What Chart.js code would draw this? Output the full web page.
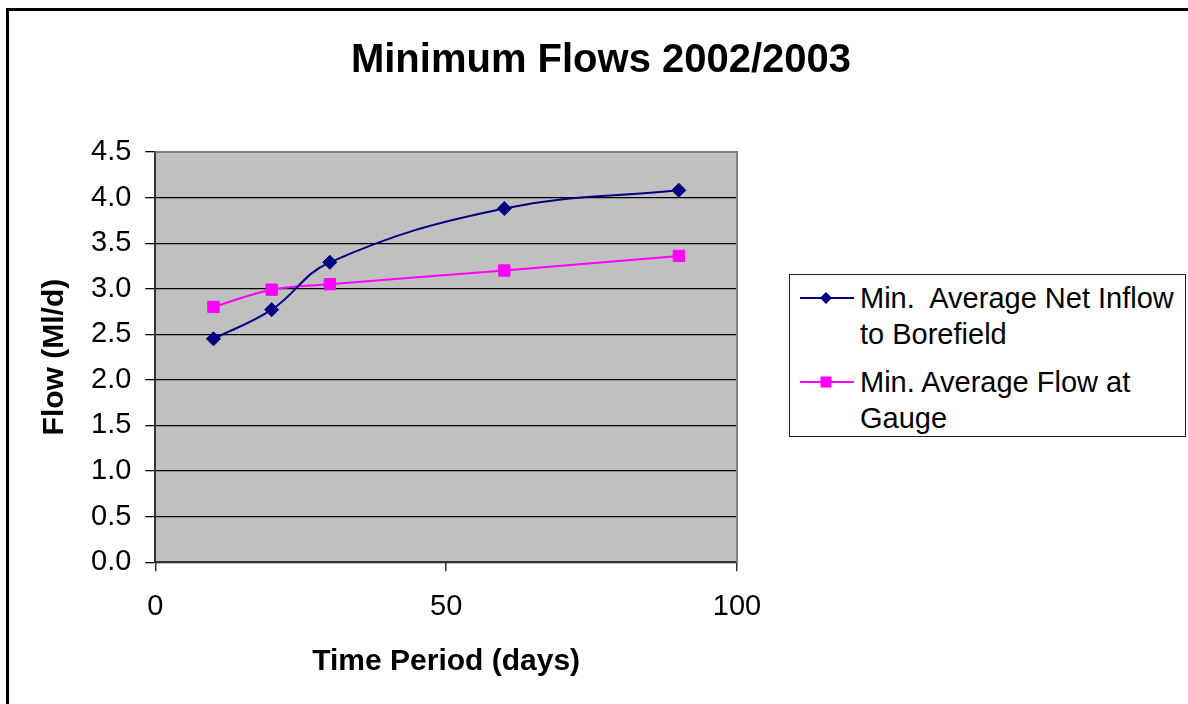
<!DOCTYPE html>
<html>
<head>
<meta charset="utf-8">
<title>Minimum Flows 2002/2003</title>
<script src="https://cdn.jsdelivr.net/npm/chart.js@4/dist/chart.umd.min.js"></script>
<style>
  html, body { margin: 0; padding: 0; background: #fff; overflow: hidden; }
  #wrap { position: relative; width: 1188px; height: 704px; }
  #chart { position: absolute; left: 0; top: 0; }
  #frame { position: absolute; left: 6px; top: 8px; width: 1300px; height: 800px;
           border-left: 3px solid #000; border-top: 3px solid #000; pointer-events: none; }
  #legend { position: absolute; left: 789px; top: 274px; width: 397px; height: 163px;
            box-sizing: border-box; border: 1px solid #222; background: #fff;
            font-family: "Liberation Sans", Arial, sans-serif; font-size: 29px; color: #000; }
  .entry { position: absolute; left: 70px; white-space: pre; line-height: 36px; }
  .swatch { position: absolute; left: 10px; }
</style>
</head>
<body>
<div id="wrap">
  <canvas id="chart" width="1188" height="704"></canvas>
  <div id="legend"></div>
  <div id="frame"></div>
</div>
<script>
// Time periods (days) and the minimum average flows (Ml/d) for each period
const periods = [10, 20, 30, 60, 90];
const netInflow = [2.45, 2.77, 3.29, 3.88, 4.08];
const gaugeFlow = [2.80, 2.99, 3.05, 3.20, 3.36];

const seriesNames = ["Min.  Average Net Inflow\nto Borefield", "Min. Average Flow at\nGauge"];
const seriesColors = ["#000080", "#FF00FF"];
const seriesMarkers = ["rectRot", "rect"];

const xTicks = [0, 50, 100];
const yTicks = [0, 0.5, 1, 1.5, 2, 2.5, 3, 3.5, 4, 4.5];

const FONT = '"Liberation Sans", Arial, sans-serif';

const toPoints = (xs, ys) => xs.map((x, i) => ({ x: x, y: ys[i] }));

// Grey plot area with a grey frame on its top and right edges
const plotArea = {
  id: 'plotArea',
  beforeDraw(chart) {
    const { ctx, chartArea: { left, top, right, bottom } } = chart;
    ctx.save();
    ctx.fillStyle = '#C0C0C0';
    ctx.fillRect(left, top, right - left, bottom - top);
    ctx.restore();
  },
  beforeDatasetsDraw(chart) {
    const { ctx, chartArea: { left, top, right, bottom } } = chart;
    ctx.save();
    ctx.strokeStyle = '#808080';
    ctx.lineWidth = 2;
    ctx.beginPath();
    ctx.moveTo(left, top);
    ctx.lineTo(right, top);
    ctx.lineTo(right, bottom);
    ctx.stroke();
    ctx.restore();
  }
};

const series = [netInflow, gaugeFlow];

const chart = new Chart(document.getElementById('chart'), {
  type: 'scatter',
  data: {
    datasets: series.map((vals, i) => ({
      label: seriesNames[i].replace('\n', ' '),
      data: toPoints(periods, vals),
      showLine: true,
      tension: 0.4,
      borderColor: seriesColors[i],
      backgroundColor: seriesColors[i],
      borderWidth: 2,
      pointStyle: seriesMarkers[i],
      pointRadius: i === 0 ? 7 : 8,
      pointBorderWidth: 1,
      pointBorderColor: seriesColors[i],
      pointBackgroundColor: seriesColors[i]
    }))
  },
  options: {
    responsive: false,
    animation: false,
    devicePixelRatio: 1,
    layout: { padding: { left: 14, right: 0, top: 0, bottom: 0 } },
    plugins: {
      legend: { display: false },
      tooltip: { enabled: false },
      title: {
        display: true,
        text: 'Minimum Flows 2002/2003',
        color: '#000',
        font: { family: FONT, size: 40, weight: 'bold' },
        padding: { top: 37, bottom: 67 }
      }
    },
    scales: {
      x: {
        type: 'linear',
        position: 'bottom',
        min: xTicks[0],
        max: xTicks[xTicks.length - 1],
        afterBuildTicks(scale) { scale.ticks = xTicks.map(v => ({ value: v })); },
        ticks: { color: '#000', font: { family: FONT, size: 29 }, padding: 18, maxRotation: 0 },
        grid: { drawOnChartArea: false, drawTicks: true, tickLength: 9, color: '#333', lineWidth: 1.5 },
        border: { color: '#333', width: 2 },
        title: {
          display: true,
          text: 'Time Period (days)',
          color: '#000',
          font: { family: FONT, size: 30, weight: 'bold' },
          padding: { top: 2, bottom: 24 }
        }
      },
      y: {
        position: 'left',
        min: yTicks[0],
        max: yTicks[yTicks.length - 1],
        afterBuildTicks(scale) { scale.ticks = yTicks.map(v => ({ value: v })); },
        ticks: { color: '#000', font: { family: FONT, size: 29 }, padding: 14,
                 callback: v => Number(v).toFixed(1) },
        grid: {
          color: c => (c.tick && c.tick.value === yTicks[yTicks.length - 1]) ? '#808080' : '#000',
          lineWidth: 1.3,
          tickLength: 10,
          tickColor: '#000'
        },
        border: { color: '#333', width: 2 },
        title: {
          display: true,
          text: 'Flow (Ml/d)',
          color: '#000',
          font: { family: FONT, size: 30, weight: 'bold' },
          padding: { top: 23, bottom: 4 }
        }
      },
      // empty right-hand gutter that leaves room for the legend box
      gutter: {
        type: 'linear',
        position: 'right',
        display: true,
        grid: { display: false },
        ticks: { display: false },
        border: { display: false },
        afterFit(scale) { scale.width = 451; }
      }
    }
  },
  plugins: [plotArea]
});

// Legend: line + marker swatch and wrapped series name
const legend = document.getElementById('legend');
const entryTops = [5, 89];
seriesNames.forEach((name, i) => {
  const sw = document.createElementNS('http://www.w3.org/2000/svg', 'svg');
  sw.setAttribute('class', 'swatch');
  sw.setAttribute('width', '56');
  sw.setAttribute('height', '20');
  sw.style.top = (entryTops[i] + 8) + 'px';
  const c = seriesColors[i];
  let marker;
  if (seriesMarkers[i] === 'rectRot') {
    marker = '<polygon points="26,4 32,10 26,16 20,10" fill="' + c + '"/>';
  } else {
    marker = '<rect x="20.5" y="4.5" width="11" height="11" fill="' + c + '"/>';
  }
  sw.innerHTML = '<line x1="0" y1="10" x2="54" y2="10" stroke="' + c + '" stroke-width="2"/>' + marker;
  legend.appendChild(sw);
  const t = document.createElement('div');
  t.className = 'entry';
  t.style.top = entryTops[i] + 'px';
  t.textContent = name;
  legend.appendChild(t);
});
</script>
</body>
</html>
